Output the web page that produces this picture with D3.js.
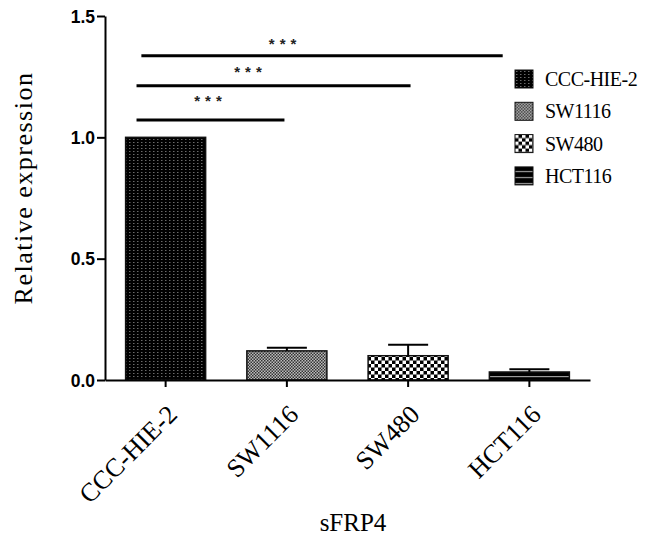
<!DOCTYPE html>
<html>
<head>
<meta charset="utf-8">
<script src="https://cdn.jsdelivr.net/npm/d3@7"></script>
<style>
  body { margin: 0; background: #fff; }
  svg { display: block; }
  .axis path, .axis line { stroke: #000; stroke-width: 2px; }
  .y-axis text { font-family: Arial, "Liberation Sans", sans-serif; font-weight: bold; font-size: 17.5px; fill: #000; }
  .x-axis text { font-family: "Liberation Serif", "Times New Roman", serif; font-size: 26px; fill: #000; }
  .title { font-family: "Liberation Serif", "Times New Roman", serif; fill: #000; }
</style>
</head>
<body>
<script>
"use strict";

var width = 645;
var height = 538;

// bar data
var groups = ["CCC-HIE-2", "SW1116", "SW480", "HCT116"];
var means = [1.0, 0.12, 0.10, 0.033];
var errors = [0, 0.013, 0.045, 0.011];
var yTicks = [0, 0.5, 1.0, 1.5];

// significance brackets, x in category-index units, y in data units
var sigFrom = [-0.24, -0.24, -0.2];
var sigTo = [0.98, 2.02, 2.78];
var sigLevel = [1.071, 1.213, 1.336];
var sigStarX = [0.37, 0.70, 0.985];
var sigStarY = [1.13, 1.25, 1.365];
var sigLabels = ["***", "***", "***"];

var margin = {left: 105, right: 55, top: 16, bottom: 158};

var x = d3.scaleBand()
    .domain(groups)
    .range([margin.left, width - margin.right])
    .paddingInner(0.34)
    .paddingOuter(0.17);

var y = d3.scaleLinear()
    .domain([0, 1.5])
    .range([height - margin.bottom, margin.top]);

// category index -> pixel (centre of band)
var xi = d3.scaleLinear()
    .domain([0, 1])
    .range([x(groups[0]) + x.bandwidth() / 2, x(groups[1]) + x.bandwidth() / 2]);

var svg = d3.select("body").append("svg")
    .attr("width", width)
    .attr("height", height);

// fill patterns, one per cell line
var defs = svg.append("defs");

var p0 = defs.append("pattern").attr("id", "pat0")
    .attr("patternUnits", "userSpaceOnUse").attr("width", 4).attr("height", 3);
p0.append("rect").attr("width", 4).attr("height", 3).attr("fill", "#000");
p0.append("rect").attr("x", 1).attr("y", 1).attr("width", 1.5).attr("height", 1).attr("fill", "#6a6a6a");

var p1 = defs.append("pattern").attr("id", "pat1")
    .attr("patternUnits", "userSpaceOnUse").attr("width", 3).attr("height", 3);
p1.append("rect").attr("width", 3).attr("height", 3).attr("fill", "#bcbcbc");
p1.append("rect").attr("width", 1.5).attr("height", 1.5).attr("fill", "#333");
p1.append("rect").attr("x", 1.5).attr("y", 1.5).attr("width", 1.5).attr("height", 1.5).attr("fill", "#333");

var p2 = defs.append("pattern").attr("id", "pat2")
    .attr("patternUnits", "userSpaceOnUse").attr("width", 7).attr("height", 7);
p2.append("rect").attr("width", 7).attr("height", 7).attr("fill", "#000");
p2.append("rect").attr("width", 3.5).attr("height", 3.5).attr("fill", "#fff");
p2.append("rect").attr("x", 3.5).attr("y", 3.5).attr("width", 3.5).attr("height", 3.5).attr("fill", "#fff");

var p3 = defs.append("pattern").attr("id", "pat3")
    .attr("patternUnits", "userSpaceOnUse").attr("width", 6).attr("height", 6);
p3.append("rect").attr("width", 6).attr("height", 6).attr("fill", "#000");
p3.append("rect").attr("y", 4).attr("width", 6).attr("height", 1.2).attr("fill", "#9a9a9a");

var fills = ["url(#pat0)", "url(#pat1)", "url(#pat2)", "url(#pat3)"];

// bars
svg.append("g").selectAll("rect")
    .data(groups)
    .enter().append("rect")
    .attr("x", function(d) { return x(d); })
    .attr("y", function(d, i) { return y(means[i]); })
    .attr("width", x.bandwidth())
    .attr("height", function(d, i) { return y(0) - y(means[i]); })
    .attr("fill", function(d, i) { return fills[i]; })
    .attr("stroke", "#111")
    .attr("stroke-width", 1.5);

// error bars (upper only)
var capW = x.bandwidth() / 2;
var err = svg.append("g").selectAll("g")
    .data(groups.filter(function(d, i) { return errors[i] > 0; }))
    .enter().append("g");
err.append("line")
    .attr("x1", function(d) { return x(d) + x.bandwidth() / 2; })
    .attr("x2", function(d) { return x(d) + x.bandwidth() / 2; })
    .attr("y1", function(d) { return y(means[groups.indexOf(d)]); })
    .attr("y2", function(d) { var i = groups.indexOf(d); return y(means[i] + errors[i]); })
    .attr("stroke", "#000").attr("stroke-width", 2);
err.append("line")
    .attr("x1", function(d) { return x(d) + x.bandwidth() / 2 - capW / 2; })
    .attr("x2", function(d) { return x(d) + x.bandwidth() / 2 + capW / 2; })
    .attr("y1", function(d) { var i = groups.indexOf(d); return y(means[i] + errors[i]); })
    .attr("y2", function(d) { var i = groups.indexOf(d); return y(means[i] + errors[i]); })
    .attr("stroke", "#000").attr("stroke-width", 2);

// axes
svg.append("g")
    .attr("class", "axis y-axis")
    .attr("transform", "translate(" + margin.left + ",0)")
    .call(d3.axisLeft(y).tickValues(yTicks).tickFormat(d3.format(".1f")).tickSize(8).tickSizeOuter(0))
    .call(function(g) { g.selectAll("text").attr("x", -10).attr("dy", "0.36em"); });

var xAxis = svg.append("g")
    .attr("class", "axis x-axis")
    .attr("transform", "translate(0," + y(0) + ")")
    .call(d3.axisBottom(x).tickSize(7).tickSizeOuter(0));
xAxis.selectAll("text")
    .attr("text-anchor", "end")
    .attr("x", 0).attr("y", 0).attr("dy", 0)
    .attr("transform", "translate(13,36) rotate(-45)");

// axis titles
svg.append("text")
    .attr("class", "title")
    .attr("transform", "translate(32," + ((y(0) + margin.top) / 2 - 10) + ") rotate(-90)")
    .attr("text-anchor", "middle")
    .style("font-size", "26px")
    .style("letter-spacing", "1.5px")
    .text("Relative expression");

svg.append("text")
    .attr("class", "title")
    .attr("x", 353)
    .attr("y", 531)
    .attr("text-anchor", "middle")
    .style("font-size", "25px")
    .text("sFRP4");

// significance brackets
var sig = svg.append("g");
sig.selectAll("line")
    .data(sigLevel)
    .enter().append("line")
    .attr("x1", function(d, i) { return xi(sigFrom[i]); })
    .attr("x2", function(d, i) { return xi(sigTo[i]); })
    .attr("y1", function(d) { return y(d); })
    .attr("y2", function(d) { return y(d); })
    .attr("stroke", "#000")
    .attr("stroke-width", 3);
sig.selectAll("text")
    .data(sigLabels)
    .enter().append("text")
    .attr("x", function(d, i) { return xi(sigStarX[i]); })
    .attr("y", function(d, i) { return y(sigStarY[i]); })
    .attr("text-anchor", "middle")
    .style("font-family", "Arial, sans-serif")
    .style("font-weight", "bold")
    .style("font-size", "15px")
    .style("letter-spacing", "5px")
    .style("fill", "#222")
    .text(function(d) { return d; });

// legend
var legend = svg.append("g")
    .attr("transform", "translate(515,70)");
var item = legend.selectAll("g")
    .data(groups)
    .enter().append("g")
    .attr("transform", function(d, i) { return "translate(0," + (i * 32.3) + ")"; });
item.append("rect")
    .attr("width", 18).attr("height", 18)
    .attr("fill", function(d, i) { return fills[i]; })
    .attr("stroke", "#111").attr("stroke-width", 1);
item.append("text")
    .attr("class", "title")
    .attr("x", 30)
    .attr("y", 16)
    .style("font-size", "20px")
    .style("letter-spacing", "-0.5px")
    .text(function(d) { return d; });
</script>
</body>
</html>
